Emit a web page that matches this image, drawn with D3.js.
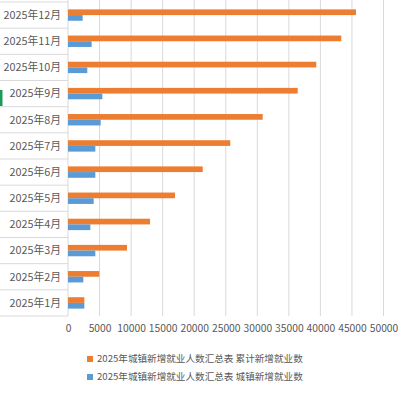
<!DOCTYPE html>
<html><head><meta charset="utf-8">
<script src="https://cdn.jsdelivr.net/npm/d3@7/dist/d3.min.js"></script>
<style>body{margin:0;background:#fff}svg{display:block}</style>
</head><body>
<script>
const categories = ["2025年1月","2025年2月","2025年3月","2025年4月","2025年5月","2025年6月","2025年7月","2025年8月","2025年9月","2025年10月","2025年11月","2025年12月"];
const cumulative = [2590, 4960, 9350, 13000, 16960, 21350, 25720, 30850, 36400, 39350, 43310, 45640];
const monthly = [2590, 2430, 4330, 3540, 4070, 4330, 4330, 5180, 5440, 3060, 3750, 2320];
const xTicks = [0,5000,10000,15000,20000,25000,30000,35000,40000,45000,50000];
const seriesNames = ["2025年城镇新增就业人数汇总表 累计新增就业数","2025年城镇新增就业人数汇总表 城镇新增就业数"];
const colors = ["#ed7d31","#5b9bd5"];

const W = 403, H = 396;
const svg = d3.select("body").append("svg").attr("width", W).attr("height", H);
const font = "'Noto Sans CJK SC', 'Liberation Sans', sans-serif";

const x = d3.scaleLinear().domain([0, 50000]).range([68, 383.5]);
const y = d3.scaleBand().domain(categories.slice().reverse()).range([2, 316]);

// gridlines
svg.append("g").selectAll("line").data(xTicks).join("line")
  .attr("x1", d => x(d)).attr("x2", d => x(d)).attr("y1", 0).attr("y2", 316)
  .attr("stroke", "#d9d9d9").attr("stroke-width", 1);

// row cell borders on the left
const rowEdges = categories.map(c => y(c) + y.bandwidth());
rowEdges.push(y.range()[0]);
svg.append("g").selectAll("line").data(rowEdges).join("line")
  .attr("x1", 0).attr("x2", 68).attr("y1", d => d).attr("y2", d => d)
  .attr("stroke", "#d9d9d9").attr("stroke-width", 1);

// green marker
svg.append("rect").attr("x", 0).attr("y", 90).attr("width", 2.5).attr("height", 16).attr("fill", "#1d9a5b");

const barH = 5.7;
const series = [cumulative, monthly];
series.forEach((vals, si) => {
  svg.append("g").selectAll("rect").data(categories).join("rect")
    .attr("x", x(0))
    .attr("y", (c) => y(c) + y.bandwidth()/2 - barH + si*barH)
    .attr("width", (c, i) => x(vals[i]) - x(0))
    .attr("height", barH)
    .attr("fill", colors[si]);
});

// category labels
svg.append("g").selectAll("text").data(categories).join("text")
  .attr("x", 61).attr("y", c => y(c) + y.bandwidth()/2)
  .attr("dy", "0.35em").attr("text-anchor", "end")
  .attr("font-family", font).attr("font-size", 10.8).attr("fill", "#595959")
  .text(c => c);

// x axis labels
const xAxis = d3.axisBottom(x).tickValues(xTicks).tickSize(0).tickPadding(0).tickFormat(d3.format("d"));
const ax = svg.append("g").attr("transform", "translate(0,325)").call(xAxis);
ax.select(".domain").remove();
ax.selectAll("text").attr("font-family", font).attr("font-size", 10.3).attr("fill", "#595959");

// legend
const lg = svg.append("g");
seriesNames.forEach((n, i) => {
  const yy = 359 + i*18;
  lg.append("rect").attr("x", 87).attr("y", yy - 3).attr("width", 6).attr("height", 6).attr("fill", colors[i]);
  lg.append("text").attr("x", 97).attr("y", yy).attr("dy", "0.35em")
    .attr("font-family", font).attr("font-size", 9.6).attr("fill", "#595959").text(n);
});
</script>
</body></html>
